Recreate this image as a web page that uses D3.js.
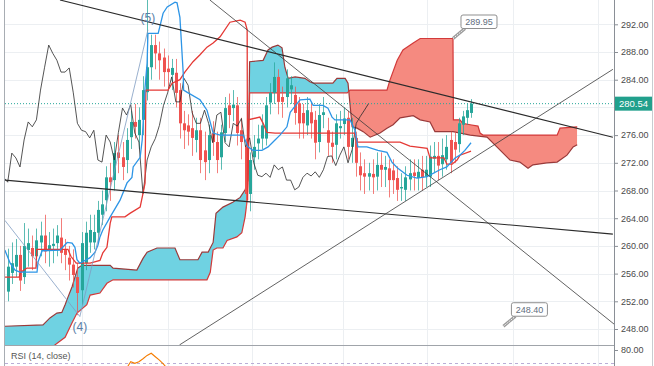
<!DOCTYPE html>
<html><head><meta charset="utf-8">
<script src="https://cdn.jsdelivr.net/npm/d3@7"></script>
<style>html,body{margin:0;padding:0;background:#fff;overflow:hidden}svg{display:block}</style>
</head><body><svg id="c" width="654" height="366"></svg>
<script>
// ---------- DATA ----------
const opens = [253.4,256.1,257.0,258.7,255.5,259.4,259.7,258.5,260.5,261.5, 259.4,260.0,260.4,261.2,259.4,258.3,257.3,255.5,253.6,257.5, 260.5,260.5,261.9,264.5,266.6,269.9,269.5,273.5,272.8,272.4, 275.7,277.9,276.0,278.2,282.2,285.8,289.0,287.8,287.2,285.6, 284.7,285.0,282.5,277.7,277.4,277.0,275.3,276.7,273.8,272.4, 276.3,275.0,272.8,276.3,280.3,279.9,280.3,276.7,274.3,267.5, 272.8,274.8,275.5,275.5,280.7,282.1,284.4,281.5,281.5,282.6, 281.8,280.6,279.2,277.4,279.3,278.2,275.0,278.9,276.7,274.9, 274.6,277.0,277.6,278.5,274.3,275.6,271.5,270.5,270.0,270.4, 270.0,271.7,271.0,271.2,270.9,269.8,268.3,268.1,269.6,270.6, 269.8,271.0,270.0,270.0,272.6,273.0,271.8,272.5,275.3,275.0, 274.7,277.5,278.5,279.2];
const highs = [259.6,260.5,261.0,260.0,263.3,262.5,261.5,262.5,263.5,264.5, 262.0,262.5,263.0,264.0,261.0,260.0,259.5,257.5,262.0,263.5, 264.5,264.5,266.5,268.0,271.5,272.0,275.0,276.0,275.0,277.0, 279.5,280.5,280.0,284.5,296.0,290.5,290.5,289.5,288.5,287.5, 287.0,287.0,283.5,279.5,279.0,279.5,278.5,278.5,276.5,277.5, 278.0,276.5,277.5,281.5,282.0,282.5,281.5,278.5,275.5,273.5, 276.0,277.5,279.0,281.5,283.5,286.5,285.5,283.0,285.5,284.5, 283.0,281.5,280.5,281.5,280.5,279.5,280.5,281.5,278.5,276.5, 279.0,279.5,280.0,279.5,278.5,276.5,273.5,272.5,272.0,272.5, 273.5,273.5,273.0,272.5,272.5,271.5,270.5,271.5,272.5,272.5, 272.5,273.0,273.0,274.5,275.0,275.0,275.5,276.0,276.5,276.5, 278.5,279.5,280.5,281.2];
const lows = [252.0,254.5,255.5,253.5,254.5,257.0,256.5,257.0,258.5,257.5, 257.0,257.5,258.5,257.5,256.5,255.0,254.0,250.0,251.5,256.5, 259.0,259.5,260.5,263.0,265.0,266.5,268.0,270.5,269.5,270.5, 274.0,275.5,274.0,276.0,281.0,284.0,285.5,284.0,283.0,282.5, 282.5,280.0,275.5,274.0,274.5,273.0,273.5,270.5,269.5,270.5, 273.0,270.5,271.0,275.0,277.0,278.0,274.5,272.5,265.5,265.0, 271.0,272.5,274.0,274.5,279.0,280.5,279.0,278.5,280.0,280.5, 277.5,275.5,275.5,276.0,275.5,272.5,273.5,277.0,273.0,272.0, 272.5,275.5,276.0,272.5,272.0,270.0,268.0,267.5,268.0,267.5, 268.0,268.5,268.5,267.0,267.5,266.5,266.5,266.5,268.0,268.0, 268.0,268.0,268.5,268.5,270.5,269.5,270.0,271.0,270.5,272.0, 273.5,276.0,277.5,278.5];
const closes = [257.0,257.5,258.7,255.0,260.0,260.4,258.5,260.8,261.5,259.2, 260.1,260.3,261.5,259.0,258.7,257.3,255.8,253.2,260.4,261.9, 262.3,262.0,265.2,266.0,269.9,269.2,273.4,272.7,271.4,275.3, 277.9,277.2,278.2,282.5,285.8,289.0,287.8,286.8,285.1,285.1, 285.7,282.1,277.7,276.7,276.5,275.6,276.7,272.4,272.1,276.0, 275.0,272.4,276.4,279.9,278.9,280.4,276.3,275.0,267.5,272.4, 274.3,275.5,277.4,280.3,282.1,284.4,280.8,280.8,284.2,283.2, 279.2,277.7,277.7,279.6,277.7,274.9,278.9,279.3,274.9,274.3, 277.7,277.3,278.4,274.3,275.6,272.0,270.2,270.0,270.5,269.9, 271.7,271.0,271.4,269.5,269.5,268.1,268.5,269.9,270.5,270.1, 270.7,269.9,271.0,272.9,273.0,271.6,273.1,274.3,272.0,273.9, 277.7,278.7,279.6,280.54];
const lagShift = 25;

// Conversion line [barIndex, price]
const tenkan = [[-0.7,259.4],[0.6,257.5],[1.8,256.5],[3.0,256.2],[7.15,256.2],[7.4,257.7],[8.4,259.3],[12.8,259.4],[14.5,260.5],[15.7,260.4],[16.4,259.8],[16.9,258.0],[17.6,257.5],[20.1,258.3],[21.3,259.1],[22.0,260.1],[22.5,261.3],[23.2,262.3],[25.0,264.2],[27.4,266.6],[29.1,269.1],[30.3,269.9],[30.6,271.4],[32.3,272.8],[32.8,275.3],[33.5,282.9],[34.0,286.4],[34.2,290.7],[36.7,290.7],[37.9,293.6],[38.9,294.5],[40.8,295.2],[41.3,295.1],[42.0,293.0],[42.8,285.0],[42.9,282.5],[43.7,282.2],[46.9,281.1],[48.6,279.6],[50.1,276.3],[51.8,276.0],[57.4,276.0],[58.6,274.3],[59.8,273.8],[62.0,273.8],[63.5,274.3],[65.2,275.3],[66.4,276.0],[68.1,277.2],[68.9,279.3],[71.3,281.1],[73.7,281.2],[74.5,280.3],[76.9,280.3],[78.1,279.9],[79.1,278.6],[79.8,278.2],[83.5,278.2],[84.7,276.7],[85.4,274.3],[87.6,274.3],[90.3,273.8],[92.5,273.5],[93.7,272.1],[95.0,271.3],[97.4,270.2],[99.8,269.8],[102.3,270.0],[105.4,271.0],[107.1,271.4],[109.1,272.7],[110.3,273.1],[111.5,273.8],[113.0,274.9]];
// Base line
const kijun = [[-0.7,255.5],[2.8,255.5],[3.2,256.2],[4.7,256.8],[6.9,256.8],[7.1,259.5],[14.7,259.5],[15.4,258.5],[16.7,257.5],[20.1,257.5],[22.5,257.9],[23.2,259.0],[24.2,259.8],[25.0,263.3],[25.4,264.2],[28.6,264.2],[29.8,264.7],[32.3,265.6],[33.0,267.6],[33.5,269.1],[33.7,282.5],[39.1,282.5],[40.1,283.5],[42.0,284.0],[43.2,285.1],[45.2,286.6],[46.9,287.6],[48.6,288.7],[50.1,289.3],[51.8,290.2],[54.2,292.3],[56.7,292.6],[57.9,292.3],[58.4,291.2],[58.5,266.6],[58.6,278.2],[61.5,278.6],[62.3,277.7],[63.2,276.4],[65.2,276.3],[82.8,276.3],[84.5,276.3],[85.2,275.0],[95.7,275.0],[98.1,274.4],[102.3,274.1],[103.0,272.7],[106.4,272.7],[107.1,271.8],[108.4,271.8],[109.6,272.4],[110.3,273.1],[113.0,273.7]];
// Leading spans (already displaced)
const spanA = [[-0.7,248.4],[8.6,248.6],[10.3,249.6],[12.0,250.3],[13.2,250.4],[14.0,251.5],[14.7,252.6],[15.7,254.1],[16.4,255.5],[17.1,256.8],[18.1,257.2],[25.0,257.2],[25.7,256.8],[31.5,256.5],[33.0,258.2],[34.0,259.1],[36.4,259.7],[40.8,259.7],[42.0,258.0],[46.4,258.0],[47.4,259.1],[48.9,259.1],[50.1,260.5],[50.8,264.7],[52.5,265.6],[54.9,266.3],[56.7,267.0],[57.9,268.1],[58.6,269.5],[59.0,286.6],[62.3,286.8],[63.5,288.3],[64.5,288.7],[65.9,289.0],[66.9,288.6],[67.6,285.8],[68.4,284.2],[70.1,284.4],[72.5,284.2],[73.7,283.7],[74.5,283.5],[79.3,283.5],[80.3,284.2],[82.3,284.2],[83.0,283.5],[84.0,277.2],[85.2,277.0],[86.7,276.5],[88.4,275.7],[90.8,276.3],[92.5,277.0],[94.0,277.5],[95.7,278.5],[98.9,278.8],[100.6,278.2],[103.0,277.9],[104.2,276.5],[108.6,276.5],[112.8,276.0],[116.9,275.7],[119.3,274.3],[122.5,272.4],[124.9,272.1],[126.9,271.2],[128.1,271.7],[131.5,272.0],[134.0,272.1],[136.4,273.1],[137.9,274.3],[138.9,274.6]];
const spanB = [[-0.7,244.7],[9.1,244.7],[11.5,245.7],[14.0,246.8],[15.7,248.9],[16.9,250.3],[19.3,251.5],[20.1,252.9],[22.5,253.2],[24.2,254.6],[25.7,255.1],[48.6,255.1],[49.4,256.2],[50.1,259.4],[51.0,259.7],[52.5,259.7],[53.5,260.8],[55.9,261.3],[57.1,261.9],[57.9,264.2],[58.4,266.6],[58.6,269.1],[59.0,282.1],[82.8,282.1],[83.5,282.5],[92.5,282.5],[93.2,283.9],[95.0,286.8],[96.4,288.3],[98.9,289.3],[100.6,289.95],[108.6,289.95],[108.7,278.2],[110.3,278.2],[111.0,277.7],[112.8,277.5],[114.7,277.3],[115.2,276.3],[115.9,276.0],[134.0,276.0],[134.7,277.0],[138.9,277.2]];

// Drawings
const trendLines = [[[12.76,295.51],[147.6,275.7]],[[49.3,295.51],[147.9,248.7]],[[-0.66,269.5],[147.6,261.7]],[[41.9,245.7],[147.6,285.5]]];
const waveLine = [[-0.7,263.7],[17.6,249.8],[34.2,291.2]];
const waveLabels = [{t:"(4)",p:[17.6,249.8],pos:"below"},{t:"(5)",p:[34.2,291.2],pos:"above"}];
const priceNotes = [{p:[108.6,289.95],t:"289.95"},{p:[120.9,248.40],t:"248.40"}];
const lastPrice = 280.54;
const priceTicks = [248,252,256,260,264,268,272,276,280,284,288,292];
const timeGrid = [18.1,39.1,59.6,81.8,102.3,123.2,144.0];
// RSI (14, close) visible piece
const rsiIdx = [29,30,31,32,33,34,35,36,37,38,39];
const rsiVal = [66.5,71.3,70.1,71.3,73.5,76.0,77.6,75.0,72.5,69.5,66.0];
const rsiTicks = [80];

// ---------- DRAW ----------
const svg = d3.select('#c');
const L=5, R=614, T=0, B=345;
const x = d3.scaleLinear().domain([-0.66,147.87]).range([L,R]);
const y = d3.scaleLinear().domain([245.69,295.51]).range([B,T]);
const yR = d3.scaleLinear().domain([70,80]).range([363.5,350]);
const font = "'Liberation Sans', Arial, sans-serif";
const defs = svg.append('defs');
defs.append('clipPath').attr('id','plotClip').append('rect').attr('x',L).attr('y',T).attr('width',R-L).attr('height',B-T);
defs.append('clipPath').attr('id','rsiClip').append('rect').attr('x',L).attr('y',B).attr('width',R-L).attr('height',366-B);

svg.append('rect').attr('width',654).attr('height',366).attr('fill','#fff');

// grid
const grid = svg.append('g');
grid.selectAll('line.h').data(priceTicks).join('line')
  .attr('x1',L).attr('x2',R).attr('y1',d=>Math.round(y(d))+0.5).attr('y2',d=>Math.round(y(d))+0.5)
  .attr('stroke','#eceff2').attr('stroke-width',1);
grid.selectAll('line.v').data(timeGrid).join('line')
  .attr('x1',d=>Math.round(x(d))+0.5).attr('x2',d=>Math.round(x(d))+0.5).attr('y1',0).attr('y2',366)
  .attr('stroke','#eceff2').attr('stroke-width',1);

const plot = svg.append('g').attr('clip-path','url(#plotClip)');
// cloud
const areaBelow = d3.area().x(d=>x(d[0])).y0(2000).y1(d=>y(d[1]));
const areaAbove = d3.area().x(d=>x(d[0])).y0(-2000).y1(d=>y(d[1]));
defs.append('clipPath').attr('id','aboveB').append('path').attr('d',areaAbove(spanB));
defs.append('clipPath').attr('id','aboveA').append('path').attr('d',areaAbove(spanA));
const cloud = plot.append('g');
cloud.append('g').attr('clip-path','url(#aboveB)').append('path').attr('d',areaBelow(spanA)).attr('fill','#6fd2e2');
cloud.append('g').attr('clip-path','url(#aboveA)').append('path').attr('d',areaBelow(spanB)).attr('fill','#f58a80');
const line = d3.line().x(d=>x(d[0])).y(d=>y(d[1]));
plot.append('path').attr('d',line(spanA)).attr('fill','none').attr('stroke','#9a3a3a').attr('stroke-width',1.2);
plot.append('path').attr('d',line(spanB)).attr('fill','none').attr('stroke','#d23a3a').attr('stroke-width',1.2);

// last price dotted line
plot.append('line').attr('x1',L).attr('x2',R).attr('y1',y(lastPrice)).attr('y2',y(lastPrice))
  .attr('stroke','#26a69a').attr('stroke-width',1).attr('stroke-dasharray','1,2');

// candles
const idx = d3.range(closes.length);
const up = '#26a69a', dn = '#ef5350';
const cg = plot.append('g');
cg.selectAll('line').data(idx).join('line')
  .attr('x1',i=>Math.round(x(i))+0.5).attr('x2',i=>Math.round(x(i))+0.5)
  .attr('y1',i=>y(highs[i])).attr('y2',i=>y(lows[i]))
  .attr('stroke',i=>closes[i]>=opens[i]?up:dn).attr('stroke-width',1).attr('opacity',0.75);
cg.selectAll('rect').data(idx).join('rect')
  .attr('x',i=>Math.round(x(i))-1).attr('width',3)
  .attr('y',i=>y(Math.max(opens[i],closes[i])))
  .attr('height',i=>Math.max(1,Math.abs(y(opens[i])-y(closes[i]))))
  .attr('fill',i=>closes[i]>=opens[i]?up:dn);

// lagging span
const lag = idx.filter(i=>i>=lagShift-1).map(i=>[i-lagShift,closes[i]]);
plot.append('path').attr('d',line(lag)).attr('fill','none').attr('stroke','#2a2a2a').attr('stroke-width',0.8);
// conversion / base
plot.append('path').attr('d',line(kijun)).attr('fill','none').attr('stroke','#e53935').attr('stroke-width',1.3);
plot.append('path').attr('d',line(tenkan)).attr('fill','none').attr('stroke','#2d95e6').attr('stroke-width',1.3);

// wave line
plot.append('path').attr('d',line(waveLine)).attr('fill','none').attr('stroke','#7f9cc2').attr('stroke-width',0.8);
// trend lines
trendLines.forEach((tl,k)=>{
  plot.append('path').attr('d',line(tl)).attr('fill','none')
    .attr('stroke',k%2===0?'#2b2b2b':'#3a3a3a').attr('stroke-width',k%2===0?1.1:0.8);
});
// wave labels
waveLabels.forEach(w=>{
  plot.append('text').attr('x',x(w.p[0])).attr('y',y(w.p[1])+(w.pos==='below'?14:-8))
    .attr('text-anchor','middle').attr('font-family',font).attr('font-size',12)
    .attr('fill','#5a7ea6').text(w.t);
});
// price notes
priceNotes.forEach(n=>{
  const ax=x(n.p[0]), ay=y(n.p[1]);
  const g=plot.append('g');
  g.append('line').attr('x1',ax).attr('y1',ay).attr('x2',ax+12).attr('y2',ay-10).attr('stroke','#9a9a9a').attr('stroke-width',3);
  g.append('line').attr('x1',ax).attr('y1',ay).attr('x2',ax+12).attr('y2',ay-10).attr('stroke','#fff').attr('stroke-width',1).attr('stroke-dasharray','1.5,1');
  g.append('rect').attr('x',ax+8).attr('y',ay-23.5).attr('width',36).attr('height',13.5).attr('rx',2)
    .attr('fill','#fff').attr('stroke','#8f8f8f').attr('stroke-width',1);
  g.append('text').attr('x',ax+26).attr('y',ay-13.5).attr('text-anchor','middle')
    .attr('font-family',font).attr('font-size',9).attr('fill','#5f6e7e').text(n.t);
});

// borders
svg.append('line').attr('x1',4.5).attr('x2',4.5).attr('y1',0).attr('y2',366).attr('stroke','#a8adb3');
svg.append('line').attr('x1',L).attr('x2',R).attr('y1',B+0.5).attr('y2',B+0.5).attr('stroke','#a0a4aa');
svg.append('line').attr('x1',652.5).attr('x2',652.5).attr('y1',0).attr('y2',366).attr('stroke','#c8ccd0');

// price axis (the 280.00 label sits under the last-price tag, so only its tick is drawn)
const labelTicks = priceTicks.filter(v=>Math.abs(y(v)-y(lastPrice))>9);
const ax = svg.append('g').attr('transform',`translate(${R},0)`)
  .call(d3.axisRight(y).tickValues(labelTicks).tickFormat(d3.format('.2f')).tickSize(4).tickPadding(3));
ax.select('.domain').attr('stroke','#8a8f96').attr('d','M0.5,0V366');
ax.selectAll('.tick line').attr('stroke','#8a8f96');
ax.selectAll('.tick text').attr('font-family',font).attr('font-size',9).attr('fill','#4a4a4a');

// last price tag
const lp = svg.append('g');
lp.append('rect').attr('x',R+1).attr('y',y(lastPrice)-7).attr('width',37).attr('height',14).attr('fill','#21a08c');
lp.append('text').attr('x',R+5).attr('y',y(lastPrice)+3.5).attr('font-family',font).attr('font-size',9.5)
  .attr('fill','#fff').text(lastPrice.toFixed(2));

// RSI pane
const rsi = svg.append('g');
rsi.append('line').attr('x1',L).attr('x2',R).attr('y1',363.5).attr('y2',363.5)
  .attr('stroke','#b9aed6').attr('stroke-width',1).attr('stroke-dasharray','3,3');
rsi.append('g').attr('clip-path','url(#rsiClip)').append('path')
  .attr('d',d3.line().x((d,i)=>x(rsiIdx[i])).y(d=>yR(d))(rsiVal))
  .attr('fill','none').attr('stroke','#f57c00').attr('stroke-width',1.1);
rsi.append('text').attr('x',11).attr('y',359).attr('font-family',font).attr('font-size',9).attr('fill','#555').text('RSI (14, close)');
const rax = svg.append('g').attr('transform',`translate(${R},0)`)
  .call(d3.axisRight(yR).tickValues(rsiTicks).tickFormat(d3.format('.2f')).tickSize(4).tickPadding(3));
rax.select('.domain').remove();
rax.selectAll('.tick line').attr('stroke','#8a8f96');
rax.selectAll('.tick text').attr('font-family',font).attr('font-size',9).attr('fill','#4a4a4a');
</script></body></html>
